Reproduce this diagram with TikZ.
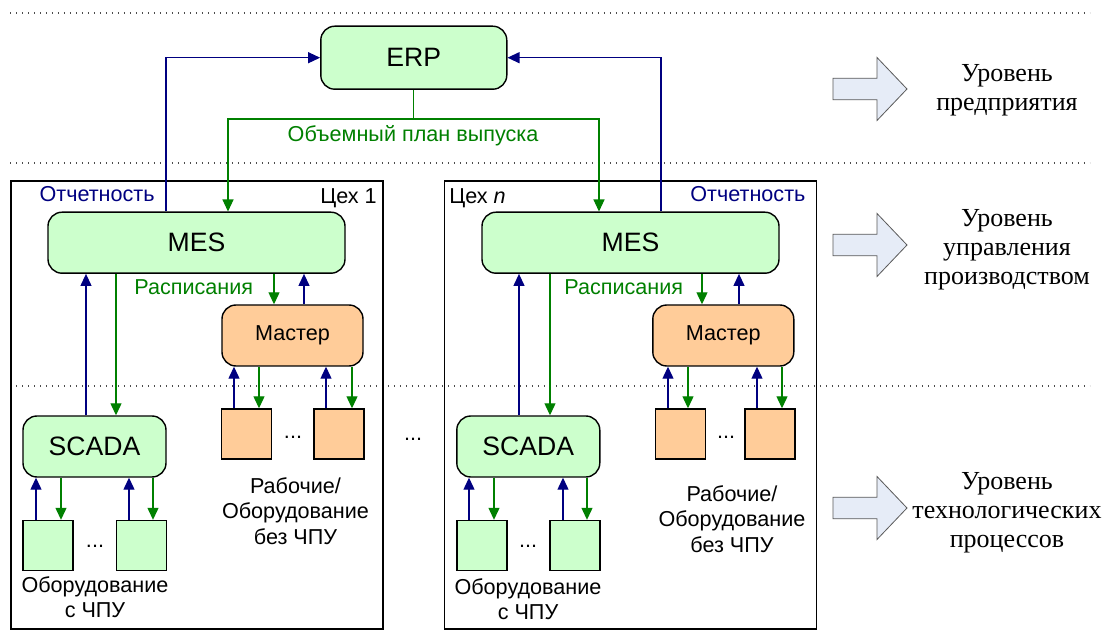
\documentclass[tikz,border=0pt]{standalone}
\usepackage{fontspec}
\setmainfont{Liberation Serif}
\setsansfont{Liberation Sans}
\usetikzlibrary{arrows.meta}

\definecolor{sysgreen}{HTML}{CCFFCC}
\definecolor{mastorange}{HTML}{FFCC99}
\definecolor{repblue}{HTML}{000080}
\definecolor{plangreen}{HTML}{008000}
\definecolor{lvlfill}{HTML}{E6ECF7}

\begin{document}
\begin{tikzpicture}%
[x=0.5pt, y=-0.5pt,%
every node/.style={font=\sffamily\fontsize{10.8}{12.7}\selectfont},%
sysbox/.style={draw, line width=0.7pt, rounded corners=7pt, fill=sysgreen,%
  font=\sffamily\fontsize{13.3}{15}\selectfont},%
mastbox/.style={draw, line width=0.7pt, rounded corners=7pt, fill=mastorange,%
  minimum width=70.5pt, minimum height=30.5pt},%
unit/.style={draw, line width=0.7pt, minimum size=25pt, inner sep=0pt},%
shop/.style={draw, line width=0.6pt, minimum width=186pt, minimum height=224pt},%
lbl/.style={inner sep=0pt},%
report/.style={draw=repblue, line width=0.6pt, -{Triangle[length=6pt,width=5.5pt]}},%
plan/.style={draw=plangreen, line width=0.6pt, -{Triangle[length=6pt,width=5.5pt]}},%
sep/.style={draw=black!70, line width=0.6pt, dash pattern=on 0.6pt off 2.4pt},%
lvlarrow/.style={draw=black!65, line width=0.4pt, fill=lvlfill},%
lvltext/.style={align=center, font=\rmfamily\fontsize{13}{14.5}\selectfont}]

\useasboundingbox[fill=white] (0,0) rectangle (1105,642);

% level borders
\draw[sep] (10,13) -- (1090,13);
\draw[sep] (10,163) -- (1090,163);
\draw[sep] (10,386) -- (1090,386);

% shops
\node[shop] (shop1) at (196.9,405) {};
\node[shop] (shopn) at (630.5,405) {};

% enterprise
\node[sysbox, minimum width=93pt, minimum height=31.5pt] (erp) at (413.8,57.7) {ERP};

% shop 1
\node[sysbox, minimum width=148.5pt, minimum height=30.5pt] (mes1) at (196.5,242.7) {MES};
\node[mastbox] (mast1) at (292.5,335.5) {Мастер};
\node[sysbox, minimum width=71.5pt, minimum height=30.5pt] (scada1) at (94.5,446.5) {SCADA};
\node[unit, fill=mastorange] (w1a) at (246.7,434) {};
\node[unit, fill=mastorange] (w1b) at (339,434) {};
\node[unit, fill=sysgreen] (e1a) at (48,545.5) {};
\node[unit, fill=sysgreen] (e1b) at (141.5,545.5) {};

% shop n
\node[sysbox, minimum width=148.5pt, minimum height=30.5pt] (mesn) at (630.5,242.7) {MES};
\node[mastbox] (mastn) at (723.3,335.5) {Мастер};
\node[sysbox, minimum width=71.5pt, minimum height=30.5pt] (scadan) at (528.3,446.5) {SCADA};
\node[unit, fill=mastorange] (wna) at (680.5,434) {};
\node[unit, fill=mastorange] (wnb) at (770,434) {};
\node[unit, fill=sysgreen] (ena) at (482,545.5) {};
\node[unit, fill=sysgreen] (enb) at (575,545.5) {};

% texts
\node[lbl, anchor=base east, text=repblue] (rep1) at (155,202) {Отчетность};
\node[lbl, anchor=base west, text=repblue] (repn) at (690,202) {Отчетность};
\node[lbl, anchor=base east] (name1) at (377,204) {Цех 1};
\node[lbl, anchor=base west] (namen) at (449,204) {Цех \textit{n}};
\node[lbl, anchor=base, text=plangreen] (plantxt) at (413,141.5) {Объемный план выпуска};
\node[lbl, anchor=base west, text=plangreen] (sched1) at (134,295) {Расписания};
\node[lbl, anchor=base west, text=plangreen] (schedn) at (564,295) {Расписания};
\node[lbl, anchor=north, align=center] (eq1) at (95,576) {Оборудование\\с ЧПУ};
\node[lbl, anchor=north, align=center] (eqn) at (528,578) {Оборудование\\с ЧПУ};
\node[lbl, anchor=north, align=center] (wk1) at (295.5,477) {Рабочие/\\Оборудование\\без ЧПУ};
\node[lbl, anchor=north, align=center] (wkn) at (732,485) {Рабочие/\\Оборудование\\без ЧПУ};
\node[lbl, anchor=base] (dots1) at (95,547) {...};
\node[lbl, anchor=base] (dots2) at (293,438) {...};
\node[lbl, anchor=base] (dots3) at (413,440) {...};
\node[lbl, anchor=base] (dots4) at (528,547) {...};
\node[lbl, anchor=base] (dots5) at (726,438) {...};

% erp links
\draw[report] (166,0 |- mes1.north) |- (erp.west);
\draw[report] (661,0 |- mesn.north) |- (erp.east);
\draw[plan] (erp.south) |- (228,119) -- (228,0 |- mes1.north);
\draw[plan] (erp.south) |- (599,119) -- (599,0 |- mesn.north);

% shop 1 links
\draw[report] (86,0 |- scada1.north) -- (86,0 |- mes1.south);
\draw[plan] (116,0 |- mes1.south) -- (116,0 |- scada1.north);
\draw[plan] (274,0 |- mes1.south) -- (274,0 |- mast1.north);
\draw[report] (304,0 |- mast1.north) -- (304,0 |- mes1.south);
\draw[report] (234,0 |- w1a.north) -- (234,0 |- mast1.south);
\draw[plan] (259,0 |- mast1.south) -- (259,0 |- w1a.north);
\draw[report] (326,0 |- w1b.north) -- (326,0 |- mast1.south);
\draw[plan] (352,0 |- mast1.south) -- (352,0 |- w1b.north);
\draw[report] (36,0 |- e1a.north) -- (36,0 |- scada1.south);
\draw[plan] (61,0 |- scada1.south) -- (61,0 |- e1a.north);
\draw[report] (129,0 |- e1b.north) -- (129,0 |- scada1.south);
\draw[plan] (153,0 |- scada1.south) -- (153,0 |- e1b.north);

% shop n links
\draw[report] (519,0 |- scadan.north) -- (519,0 |- mesn.south);
\draw[plan] (550,0 |- mesn.south) -- (550,0 |- scadan.north);
\draw[plan] (702,0 |- mesn.south) -- (702,0 |- mastn.north);
\draw[report] (739,0 |- mastn.north) -- (739,0 |- mesn.south);
\draw[report] (668,0 |- wna.north) -- (668,0 |- mastn.south);
\draw[plan] (688,0 |- mastn.south) -- (688,0 |- wna.north);
\draw[report] (757,0 |- wnb.north) -- (757,0 |- mastn.south);
\draw[plan] (782,0 |- mastn.south) -- (782,0 |- wnb.north);
\draw[report] (469,0 |- ena.north) -- (469,0 |- scadan.south);
\draw[plan] (494,0 |- scadan.south) -- (494,0 |- ena.north);
\draw[report] (563,0 |- enb.north) -- (563,0 |- scadan.south);
\draw[plan] (587,0 |- scadan.south) -- (587,0 |- enb.north);

% levels
\draw[lvlarrow] (833,78.2) -- ++(44,0) -- ++(0,-20.7) -- ++(30,31.5)
  -- ++(-30,31.5) -- ++(0,-20.7) -- ++(-44,0) -- cycle;
\draw[lvlarrow] (833,234.2) -- ++(44,0) -- ++(0,-20.7) -- ++(30,31.5)
  -- ++(-30,31.5) -- ++(0,-20.7) -- ++(-44,0) -- cycle;
\draw[lvlarrow] (833,497.2) -- ++(44,0) -- ++(0,-20.7) -- ++(30,31.5)
  -- ++(-30,31.5) -- ++(0,-20.7) -- ++(-44,0) -- cycle;
\node[lvltext] (lvl1) at (1007,90) {Уровень\\предприятия};
\node[lvltext] (lvl2) at (1007,250) {Уровень\\управления\\производством};
\node[lvltext] (lvl3) at (1007,513) {Уровень\\технологических\\процессов};
\end{tikzpicture}
\end{document}
